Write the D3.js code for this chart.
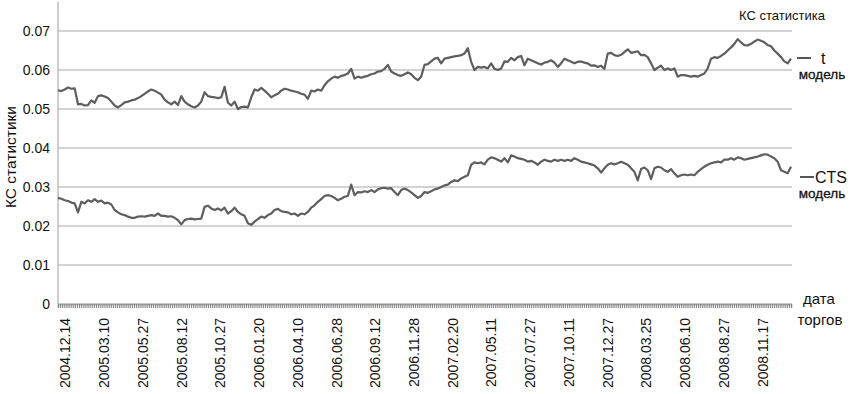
<!DOCTYPE html>
<html>
<head>
<meta charset="utf-8">
<script src="https://cdn.jsdelivr.net/npm/d3@7"></script>
<style>
  body { margin: 0; background: #fff; }
  svg { display: block; font-family: "Liberation Sans", Arial, sans-serif; }
</style>
</head>
<body>
<svg id="chart" width="856" height="394"></svg>
<script>
// Date labels shown under the x axis (every 55 trading days)
const dateLabels = ["2004.12.14", "2005.03.10", "2005.05.27", "2005.08.12", "2005.10.27",
    "2006.01.20", "2006.04.10", "2006.06.28", "2006.09.12", "2006.11.28", "2007.02.20",
    "2007.05.11", "2007.07.27", "2007.10.11", "2007.12.27", "2008.03.25", "2008.06.10",
    "2008.08.27", "2008.11.17"];
const firstLabelDay = 10;
const labelEvery = 55;
const nDays = 1042;

const yTicks = [0, 0.01, 0.02, 0.03, 0.04, 0.05, 0.06, 0.07];

// KS statistic, t model (evenly spaced over the trading days)
const tValues = [
    .0548, .0546, .0550, .0555, .0552, .0553, .0512, .0513, .0509, .0510,
    .0522, .0516, .0533, .0535, .0532, .0528, .0519, .0509, .0504, .0510,
    .0517, .0519, .0522, .0524, .0528, .0533, .0539, .0545, .0550, .0547,
    .0542, .0537, .0524, .0517, .0512, .0519, .0510, .0533, .0519, .0512,
    .0507, .0504, .0509, .0519, .0543, .0533, .0531, .0530, .0528, .0530,
    .0557, .0516, .0509, .0519, .0500, .0505, .0506, .0504, .0530, .0550,
    .0547, .0554, .0547, .0539, .0530, .0535, .0539, .0547, .0552, .0550,
    .0547, .0545, .0543, .0539, .0537, .0526, .0547, .0545, .0550, .0547,
    .0561, .0571, .0578, .0583, .0580, .0585, .0587, .0591, .0603, .0578,
    .0583, .0580, .0583, .0585, .0589, .0591, .0596, .0597, .0603, .0613,
    .0596, .0591, .0587, .0585, .0589, .0594, .0589, .0580, .0574, .0583,
    .0613, .0615, .0622, .0629, .0631, .0617, .0629, .0631, .0633, .0635,
    .0636, .0638, .0642, .0656, .0621, .0600, .0608, .0606, .0608, .0604,
    .0617, .0603, .0600, .0604, .0622, .0621, .0631, .0625, .0633, .0636,
    .0612, .0629, .0625, .0621, .0617, .0614, .0619, .0621, .0625, .0619,
    .0608, .0617, .0629, .0625, .0621, .0617, .0621, .0622, .0619, .0617,
    .0611, .0612, .0608, .0611, .0603, .0642, .0644, .0638, .0636, .0639,
    .0646, .0653, .0644, .0646, .0648, .0638, .0639, .0633, .0617, .0600,
    .0606, .0611, .0600, .0604, .0600, .0604, .0583, .0587, .0587, .0585,
    .0583, .0585, .0583, .0587, .0591, .0604, .0629, .0633, .0631, .0636,
    .0642, .0650, .0658, .0667, .0679, .0671, .0664, .0663, .0667, .0673,
    .0678, .0675, .0671, .0664, .0661, .0650, .0642, .0633, .0622, .0617,
    .0629
];

// KS statistic, CTS model
const ctsValues = [
    .0272, .0270, .0266, .0264, .0260, .0258, .0235, .0262, .0258, .0266,
    .0262, .0269, .0262, .0265, .0258, .0260, .0255, .0241, .0235, .0230,
    .0228, .0224, .0221, .0221, .0224, .0225, .0224, .0226, .0228, .0226,
    .0232, .0226, .0226, .0224, .0225, .0221, .0215, .0204, .0215, .0218,
    .0219, .0217, .0218, .0219, .0249, .0252, .0245, .0241, .0245, .0240,
    .0247, .0232, .0238, .0247, .0236, .0230, .0226, .0207, .0203, .0211,
    .0218, .0224, .0221, .0228, .0232, .0241, .0244, .0238, .0236, .0235,
    .0230, .0232, .0226, .0232, .0230, .0236, .0247, .0253, .0262, .0269,
    .0277, .0279, .0277, .0272, .0266, .0270, .0275, .0277, .0306, .0279,
    .0287, .0286, .0289, .0287, .0292, .0287, .0294, .0297, .0298, .0296,
    .0297, .0287, .0279, .0292, .0296, .0292, .0286, .0279, .0272, .0277,
    .0287, .0285, .0289, .0294, .0296, .0300, .0304, .0306, .0313, .0317,
    .0315, .0322, .0326, .0330, .0357, .0363, .0361, .0363, .0358, .0370,
    .0376, .0374, .0370, .0365, .0374, .0363, .0381, .0378, .0374, .0372,
    .0370, .0365, .0367, .0363, .0357, .0365, .0370, .0367, .0365, .0370,
    .0367, .0370, .0367, .0370, .0367, .0374, .0370, .0365, .0363, .0361,
    .0358, .0355, .0348, .0337, .0348, .0357, .0361, .0358, .0361, .0365,
    .0361, .0357, .0348, .0339, .0317, .0346, .0350, .0343, .0320, .0348,
    .0352, .0350, .0343, .0339, .0346, .0335, .0326, .0330, .0332, .0330,
    .0332, .0330, .0339, .0346, .0352, .0357, .0361, .0363, .0365, .0363,
    .0370, .0370, .0374, .0370, .0376, .0374, .0370, .0372, .0374, .0376,
    .0378, .0381, .0384, .0383, .0378, .0374, .0365, .0343, .0339, .0335,
    .0352
];

const margin = { top: 31, right: 65, bottom: 90, left: 58 };
const width = 856 - margin.left - margin.right;
const height = 394 - margin.top - margin.bottom;

const svg = d3.select("#chart")
    .append("g")
    .attr("transform", `translate(${margin.left}, ${margin.top})`);

const xScale = d3.scaleLinear().domain([0, nDays - 1]).range([0, width]);
const yScale = d3.scaleLinear().domain([0, 0.07]).range([height, 0]);

// Horizontal grid
svg.selectAll(".yGrid")
    .data(yTicks)
    .join("line")
    .attr("x1", 0)
    .attr("x2", width + 1)
    .attr("y1", d => yScale(d))
    .attr("y2", d => yScale(d))
    .attr("stroke", "#c4c4c4")
    .attr("stroke-width", 1.3);

// Y axis
const yAxis = d3.axisLeft(yScale)
    .tickValues(yTicks)
    .tickSize(0)
    .tickPadding(8)
    .tickFormat(d => d === 0 ? "0" : d3.format(".2f")(d));

const yG = svg.append("g").call(yAxis);
yG.select(".domain").remove();
yG.selectAll("text").style("font-size", "14px").attr("fill", "#111");

svg.append("line")
    .attr("x1", 0).attr("x2", 0)
    .attr("y1", -margin.top + 2).attr("y2", height)
    .attr("stroke", "#bdbdbd")
    .attr("stroke-width", 1.5);

// X axis: dense minor ticks
const minorAxis = d3.axisBottom(xScale)
    .tickValues(d3.range(0, nDays, 3))
    .tickSize(4)
    .tickFormat("");

const minorG = svg.append("g")
    .attr("transform", `translate(0, ${height})`)
    .call(minorAxis);
minorG.select(".domain").attr("stroke", "#a8a8a8").attr("stroke-width", 1.5);
minorG.selectAll(".tick line").attr("stroke", "#8a8a8a").attr("stroke-width", 1.2);

// X axis: rotated date labels
const labelDays = dateLabels.map((d, i) => firstLabelDay + i * labelEvery);
const xAxis = d3.axisBottom(xScale)
    .tickValues(labelDays)
    .tickSize(0)
    .tickFormat((d, i) => dateLabels[i]);

const xG = svg.append("g")
    .attr("transform", `translate(0, ${height})`)
    .call(xAxis);
xG.select(".domain").remove();
xG.selectAll("text")
    .style("font-size", "14px")
    .attr("fill", "#111")
    .attr("text-anchor", "end")
    .attr("transform", "rotate(-90)")
    .attr("x", -14)
    .attr("y", 0)
    .attr("dy", "0.35em");

// Lines
const dayOf = (i, n) => i * (nDays - 1) / (n - 1);
const lineGenerator = d3.line()
    .x((d, i, arr) => xScale(dayOf(i, arr.length)))
    .y(d => yScale(d));

[tValues, ctsValues].forEach(values => {
    svg.append("path")
        .datum(values)
        .attr("d", lineGenerator)
        .attr("fill", "none")
        .attr("stroke", "#5e5e5e")
        .attr("stroke-width", 2.2)
        .attr("stroke-linejoin", "round");
});

// Axis titles and labels
const root = d3.select("#chart");

root.append("text")
    .attr("transform", "translate(16, 157) rotate(-90)")
    .attr("text-anchor", "middle")
    .style("font-size", "15.5px")
    .attr("fill", "#111")
    .text("КС статистики");

root.append("text")
    .attr("x", 782)
    .attr("y", 20)
    .attr("text-anchor", "middle")
    .style("font-size", "13px")
    .attr("fill", "#111")
    .text("КС статистика");

// Series labels on the right
const seriesLabels = [
    { name: "t", dashX: 797, textX: 821, y: 58 },
    { name: "CTS", dashX: 800, textX: 815, y: 177 },
];

seriesLabels.forEach(s => {
    root.append("line")
        .attr("x1", s.dashX).attr("x2", s.dashX + 14)
        .attr("y1", s.y).attr("y2", s.y)
        .attr("stroke", "#555")
        .attr("stroke-width", 2);
    root.append("text")
        .attr("x", s.textX)
        .attr("y", s.y + 6)
        .style("font-size", "16px")
        .attr("fill", "#111")
        .text(s.name);
    root.append("text")
        .attr("x", 822)
        .attr("y", s.y + 21)
        .attr("text-anchor", "middle")
        .style("font-size", "13.5px")
        .attr("fill", "#111")
        .attr("stroke", "#111")
        .attr("stroke-width", 0.3)
        .text("модель");
});

root.append("text")
    .attr("x", 819).attr("y", 304)
    .attr("text-anchor", "middle")
    .style("font-size", "15px")
    .attr("fill", "#111")
    .text("дата");

root.append("text")
    .attr("x", 820).attr("y", 325)
    .attr("text-anchor", "middle")
    .style("font-size", "15px")
    .attr("fill", "#111")
    .text("торгов");
</script>
</body>
</html>
